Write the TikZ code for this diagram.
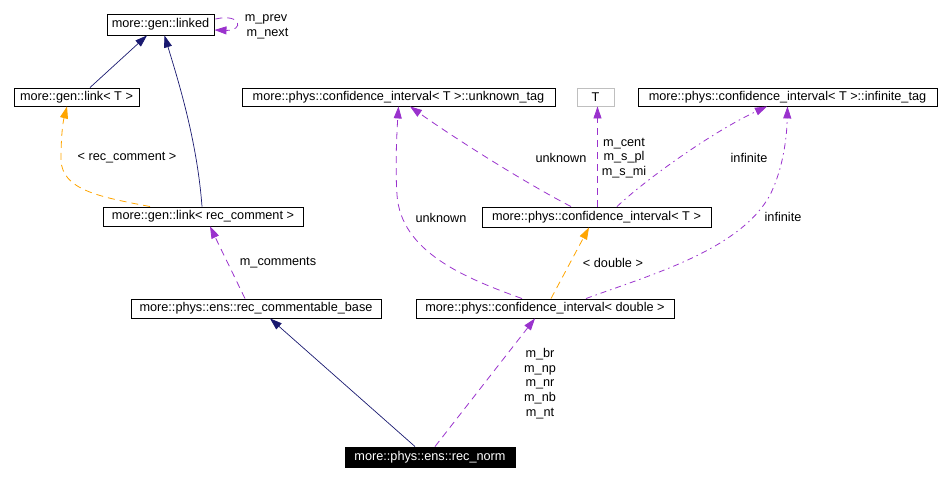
\documentclass[tikz,border=0pt]{standalone}
\usepackage{fontspec}
\setmainfont{Liberation Sans}
\usetikzlibrary{arrows.meta,calc}
\definecolor{navy}{HTML}{191970}
\definecolor{purp}{HTML}{9A32CD}
\definecolor{orng}{HTML}{FFA500}
\definecolor{gbox}{HTML}{BFBFBF}
\begin{document}
\begin{tikzpicture}[x=1pt,y=-1pt,
  every node/.style={font=\fontsize{12.7}{14.8}\selectfont, inner sep=0pt},
  box/.style={draw=black, line width=0.9pt, rectangle, fill=white},
  lbl/.style={align=center},
  tip/.style={-{Triangle[length=12pt,width=8pt]}},
  inh/.style={tip, draw=navy, line width=0.7pt},
  tmpl/.style={tip, draw=orng, line width=0.8pt, dash pattern=on 7pt off 5pt},
  use/.style={tip, draw=purp, line width=0.8pt, dash pattern=on 7pt off 5pt},
  usedd/.style={tip, draw=purp, line width=0.8pt, dash pattern=on 6pt off 4pt on 1.5pt off 4pt}]
\useasboundingbox (0,0) rectangle (950,481);
% nodes
\node[box, minimum width=107, minimum height=21] (linked) at (160.5,24.5) {more::gen::linked};
\node[box, minimum width=125, minimum height=18] (linkT) at (76.5,97) {more::gen::link< T >};
\node[box, minimum width=200, minimum height=19] (linkRC) at (203,216.5) {more::gen::link< rec\_comment >};
\node[box, minimum width=313, minimum height=18] (unk) at (398.5,97) {more::phys::confidence\_interval< T >::unknown\_tag};
\node[box, draw=gbox, minimum width=37, minimum height=18] (T) at (595.5,97) {T};
\node[box, minimum width=299, minimum height=18] (inf) at (787.5,97) {more::phys::confidence\_interval< T >::infinite\_tag};
\node[box, minimum width=229, minimum height=20] (ciT) at (596.5,217) {more::phys::confidence\_interval< T >};
\node[box, minimum width=250, minimum height=19] (base) at (256,308.5) {more::phys::ens::rec\_commentable\_base};
\node[box, minimum width=258, minimum height=19] (cid) at (545,308.5) {more::phys::confidence\_interval< double >};
\node[box, fill=black, text=white, minimum width=170, minimum height=20] (norm) at (430,457) {more::phys::ens::rec\_norm};
% edges
\draw[inh] ($(linkT.north)+(13.5,0)$) -- ($(linked.south)+(-13.5,0)$);
\draw[inh] ($(linkRC.north)+(-1,0)$) .. controls (197,140) and (178,80) .. ($(linked.south)+(4,0)$);
\draw[tmpl] ($(linkRC.north)+(-53,0)$) .. controls (100,197) and (62,190) .. (61,160) .. controls (61,135) and (63,122) .. ($(linkT.south)+(-9.5,0)$);
\node[lbl] (lrc) at (127,158) {< rec\_comment >};
\draw[use] ($(base.north)+(-11,0)$) -- ($(linkRC.south)+(7,0)$);
\node[lbl] (lmc) at (278,263) {m\_comments};
\draw[inh] ($(norm.north)+(-15,0)$) -- ($(base.south)+(14,0)$);
\draw[use] ($(norm.north)+(5,0)$) -- ($(cid.south)+(-10,0)$);
\node[lbl] (lmb) at (540,383.5) {m\_br\\m\_np\\m\_nr\\m\_nb\\m\_nt};
\draw[tmpl] ($(cid.north)+(6,0)$) -- ($(ciT.south)+(-7.5,0)$);
\node[lbl] (ldb) at (613,263) {< double >};
\draw[use] ($(cid.north)+(-23,0)$) .. controls (465,278) and (401,252) .. (397,195) .. controls (395,165) and (397,130) .. ($(unk.south)+(0,0)$);
\node[lbl] (lu1) at (441,218) {unknown};
\draw[use] ($(ciT.north)+(-25.5,0)$) .. controls (520,180) and (450,135) .. ($(unk.south)+(11.5,0)$);
\node[lbl] (lu2) at (561,158) {unknown};
\draw[use] ($(ciT.north)+(1,0)$) -- ($(T.south)+(2,0)$);
\node[lbl] (lmc2) at (624,158) {m\_cent\\m\_s\_pl\\m\_s\_mi};
\draw[usedd] ($(ciT.north)+(20.5,0)$) .. controls (645,180) and (712,132) .. ($(inf.south)+(-20.5,0)$);
\node[lbl] (li1) at (749,158) {infinite};
\draw[usedd] ($(cid.north)+(41,0)$) .. controls (650,275) and (740,250) .. (770,195) .. controls (785,165) and (787,130) .. ($(inf.south)+(0,0)$);
\node[lbl] (li2) at (783,217) {infinite};
\draw[use] ($(linked.east)+(1,-5.5)$) .. controls (242,13) and (244,31) .. ($(linked.east)+(0,5.5)$);
\node[lbl] (lpv) at (266,19) {m\_prev};
\node[lbl] (lnx) at (267.5,34) {m\_next};
\end{tikzpicture}
\end{document}
